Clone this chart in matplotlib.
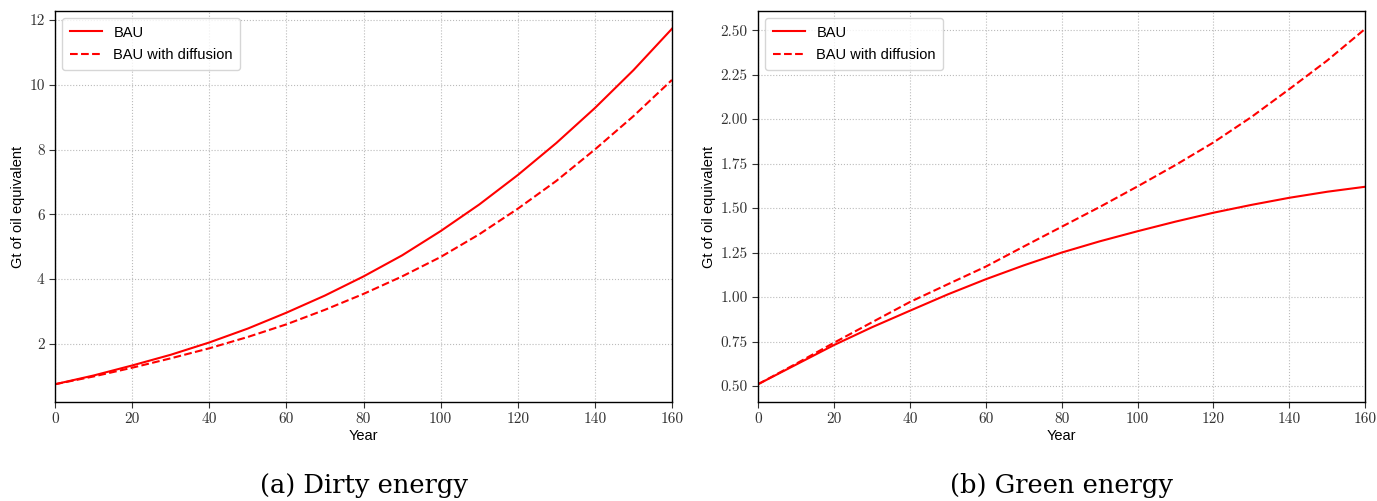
"""Energy use under BAU and BAU with diffusion, dirty vs green energy."""

import matplotlib

matplotlib.use("Agg")
import matplotlib.pyplot as plt
from matplotlib.ticker import FixedLocator, FuncFormatter

# ---------------------------------------------------------------------------
# Data (Gt of oil equivalent, every 10 years)
# ---------------------------------------------------------------------------
years = [0, 10, 20, 30, 40, 50, 60, 70, 80, 90, 100, 110, 120, 130, 140, 150, 160]

dirty_bau = [0.75, 1.02, 1.33, 1.66, 2.04, 2.47, 2.96, 3.49, 4.08, 4.73,
             5.48, 6.30, 7.21, 8.20, 9.28, 10.45, 11.73]
dirty_diff = [0.75, 0.99, 1.26, 1.55, 1.86, 2.21, 2.60, 3.05, 3.54, 4.08,
              4.68, 5.38, 6.17, 7.03, 8.00, 9.03, 10.15]

green_bau = [0.51, 0.62, 0.73, 0.83, 0.923, 1.015, 1.10, 1.178, 1.25, 1.313,
             1.37, 1.424, 1.474, 1.518, 1.558, 1.592, 1.62]
green_diff = [0.51, 0.625, 0.743, 0.858, 0.972, 1.072, 1.171, 1.284, 1.395,
              1.506, 1.622, 1.742, 1.869, 2.012, 2.169, 2.33, 2.508]

x_ticks = [0, 20, 40, 60, 80, 100, 120, 140, 160]
dirty_ticks = [2, 4, 6, 8, 10, 12]
green_ticks = [0.50, 0.75, 1.00, 1.25, 1.50, 1.75, 2.00, 2.25, 2.50]

captions = ["(a) Dirty energy", "(b) Green energy"]

SANS = "Liberation Sans"
TICK_FONT = "cmr10"


def style_axis(ax, yticks, yfmt):
    ax.set_xlim(0, 160)
    ax.xaxis.set_major_locator(FixedLocator(x_ticks))
    ax.yaxis.set_major_locator(FixedLocator(yticks))
    ax.xaxis.set_major_formatter(FuncFormatter(lambda v, p: f"{v:g}"))
    ax.yaxis.set_major_formatter(FuncFormatter(lambda v, p: yfmt.format(v)))
    for lab in ax.get_xticklabels() + ax.get_yticklabels():
        lab.set_fontfamily(TICK_FONT)
        lab.set_fontsize(11)
    ax.tick_params(direction="out", length=4, width=0.8, colors="#333333",
                   labelcolor="#333333")
    ax.grid(True, linestyle=":", linewidth=0.8, color="#bbbbbb")
    ax.set_xlabel("Year", fontfamily=SANS, fontsize=10.5, labelpad=2)
    ax.set_ylabel("Gt of oil equivalent", fontfamily=SANS, fontsize=10.5,
                  labelpad=3)
    for sp in ax.spines.values():
        sp.set_linewidth(1.0)
    leg = ax.legend(loc="upper left", prop={"family": SANS, "size": 10.5},
                    handlelength=2.2, borderpad=0.5, labelspacing=0.6)
    leg.get_frame().set_edgecolor("#cccccc")


fig = plt.figure(figsize=(13.77, 5.01), dpi=100)
ax1 = fig.add_axes([0.040, 0.1976, 0.448, 0.7805])
ax2 = fig.add_axes([0.5505, 0.1976, 0.441, 0.7805])

ax1.plot(years, dirty_bau, color="red", linewidth=1.5, label="BAU")
ax1.plot(years, dirty_diff, color="red", linewidth=1.5, linestyle="--",
         label="BAU with diffusion")
style_axis(ax1, dirty_ticks, "{:g}")

ax2.plot(years, green_bau, color="red", linewidth=1.5, label="BAU")
ax2.plot(years, green_diff, color="red", linewidth=1.5, linestyle="--",
         label="BAU with diffusion")
style_axis(ax2, green_ticks, "{:.2f}")

for ax, cap in zip((ax1, ax2), captions):
    pos = ax.get_position()
    fig.text(pos.x0 + pos.width / 2, 0.016, cap, ha="center", va="baseline",
             fontfamily="DejaVu Serif", fontsize=18.5)

fig.savefig("out.png", dpi=100)
